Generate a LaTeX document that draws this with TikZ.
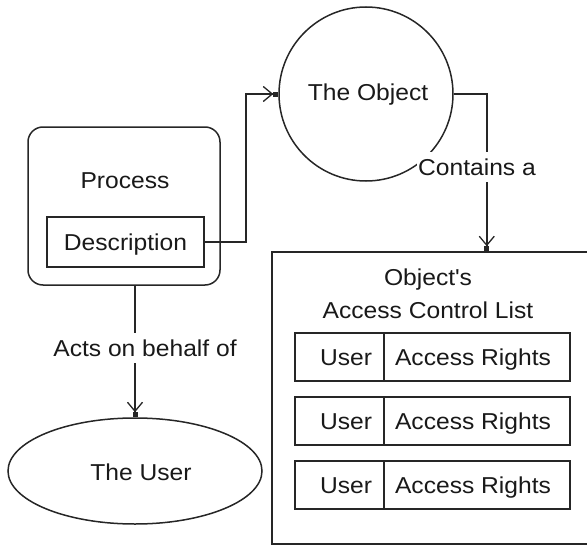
\documentclass[tikz,border=0pt]{standalone}
\usepackage{fontspec}
\setmainfont{Liberation Sans}[FakeStretch=1.07]
\usetikzlibrary{arrows.meta,shapes.geometric}
\begin{document}
\begin{tikzpicture}[x=1pt,y=-1pt,
  every node/.style={font=\fontsize{23}{27}\selectfont, text=black!90, inner sep=0pt, text height=16.5pt, text depth=0pt},
  ln/.style={line width=1.5pt, draw=black!85},
  arr/.style={ln, -{Straight Barb[length=9pt,width=15pt,line width=1.3pt]Square[length=5pt,width=5pt]}},
  lbl/.style={fill=white, inner xsep=1pt, inner ysep=7pt}]
\path[use as bounding box, clip] (0,0) rectangle (587,546);
% Process
\node[ln, rectangle, rounded corners=15pt, minimum width=192pt, minimum height=158pt] (proc) at (124,206) {};
\node (ptxt) at (125,180) {Process};
\node[ln, rectangle, minimum width=157pt, minimum height=50pt] (desc) at (125.5,242) {};
\node (dtxt) at (125.5,242) {Description};
% Object
\node[ln, circle, minimum size=174pt] (obj) at (366,94) {};
\node (otxt) at (368,92) {The Object};
% User
\node[ln, ellipse, minimum width=254pt, minimum height=106pt] (user) at (135,471) {};
\node (utxt) at (141,472) {The User};
% ACL
\node[ln, rectangle, minimum width=340pt, minimum height=292pt] (acl) at (442,398) {};
\node (t1) at (428,277) {Object\textquotesingle s};
\node (t2) at (428,310) {Access Control List};
\foreach \i/\y in {1/357,2/421,3/485}{
  \node[ln, rectangle, minimum width=89pt, minimum height=48pt] (u\i) at (339.5,\y) {};
  \node[ln, rectangle, minimum width=186pt, minimum height=48pt] (r\i) at (477,\y) {};
  \node (ut\i) at (346,\y) {User};
  \node (rt\i) at (473,\y) {Access Rights};
}
% connectors
\draw[arr] (desc.east) -- ++(41,0) coordinate (k1) |- (obj.west);
\draw[arr] (obj.east) -- ++(33,0) coordinate (k2) -- (k2 |- acl.north);
\node[lbl] (lab1) at (477,167) {Contains a};
\draw[arr] (proc.south -| user.north) -- (user.north);
\node[lbl] (lab2) at (145,348) {Acts on behalf of};
\end{tikzpicture}
\end{document}
